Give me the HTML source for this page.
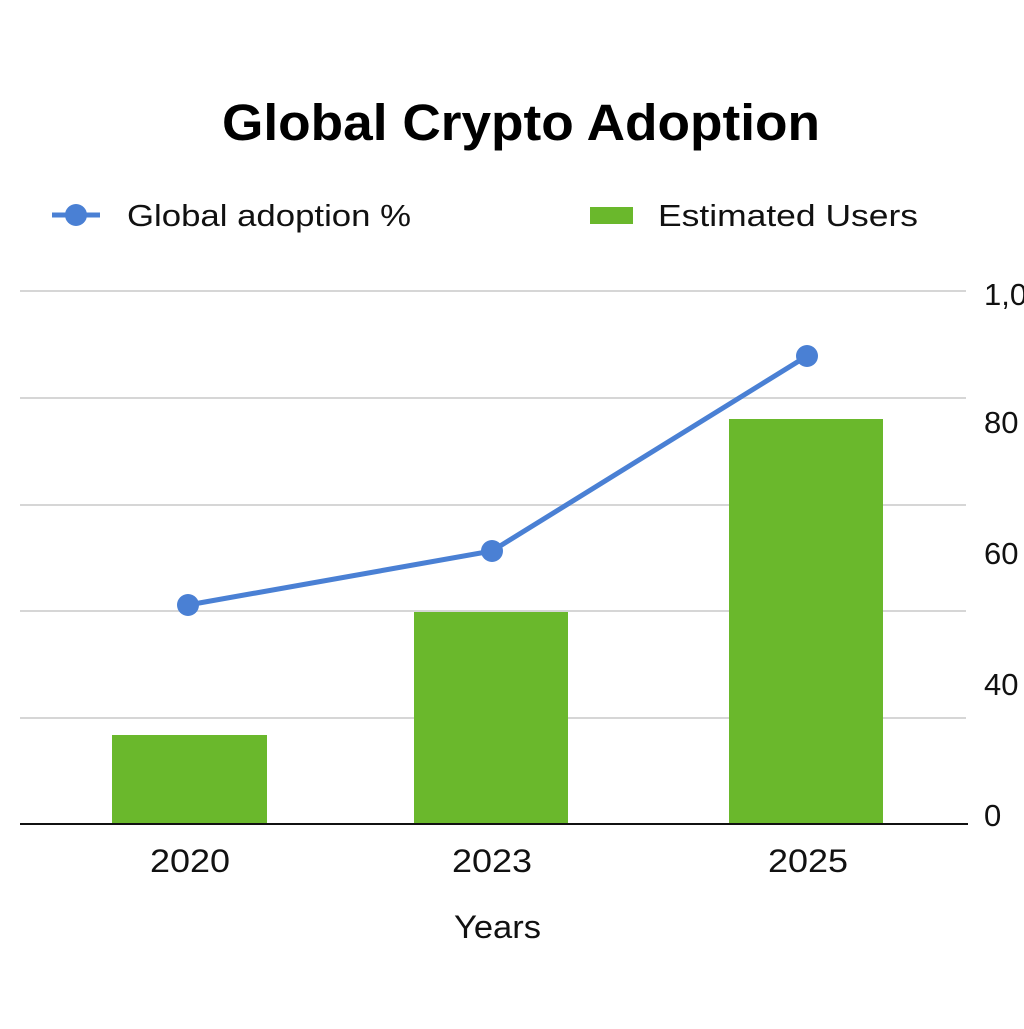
<!DOCTYPE html>
<html><head><style>body{margin:0;background:#fff}</style></head><body>
<svg width="1024" height="1024" xmlns="http://www.w3.org/2000/svg" font-family="Liberation Sans, DejaVu Sans, sans-serif">
<rect width="1024" height="1024" fill="#fff"/>
<text x="222" y="140" font-size="51" font-weight="bold" fill="#000" textLength="598" lengthAdjust="spacingAndGlyphs">Global Crypto Adoption</text>
<line x1="52" y1="215" x2="100" y2="215" stroke="#4a80d4" stroke-width="5"/>
<circle cx="76" cy="215" r="11" fill="#4a80d4"/>
<text x="127" y="226" font-size="31" fill="#111" textLength="284" lengthAdjust="spacingAndGlyphs">Global adoption %</text>
<rect x="590" y="207" width="43" height="17" fill="#6ab82c"/>
<text x="658" y="226" font-size="31" fill="#111" textLength="260" lengthAdjust="spacingAndGlyphs">Estimated Users</text>
<g stroke="#d6d6d6" stroke-width="2">
<line x1="20" y1="291" x2="966" y2="291"/><line x1="20" y1="398" x2="966" y2="398"/>
<line x1="20" y1="505" x2="966" y2="505"/><line x1="20" y1="611" x2="966" y2="611"/>
<line x1="20" y1="718" x2="966" y2="718"/></g>
<g font-size="31" fill="#111">
<text x="984" y="305">1,0</text><text x="984" y="433">80</text><text x="984" y="564">60</text>
<text x="984" y="695">40</text><text x="984" y="826">0</text></g>
<g fill="#6ab82c">
<rect x="112" y="735" width="155" height="89"/><rect x="414" y="612" width="154" height="212"/>
<rect x="729" y="419" width="154" height="405"/></g>
<line x1="20" y1="824" x2="968" y2="824" stroke="#111" stroke-width="2"/>
<polyline points="188,605 492,551 807,356" fill="none" stroke="#4a80d4" stroke-width="5"/>
<g fill="#4a80d4"><circle cx="188" cy="605" r="11"/><circle cx="492" cy="551" r="11"/><circle cx="807" cy="356" r="11"/></g>
<g font-size="32" fill="#111">
<text x="150" y="872" textLength="80" lengthAdjust="spacingAndGlyphs">2020</text>
<text x="452" y="872" textLength="80" lengthAdjust="spacingAndGlyphs">2023</text>
<text x="768" y="872" textLength="80" lengthAdjust="spacingAndGlyphs">2025</text>
<text x="454" y="938" textLength="87" lengthAdjust="spacingAndGlyphs">Years</text></g>
</svg>
</body></html>
